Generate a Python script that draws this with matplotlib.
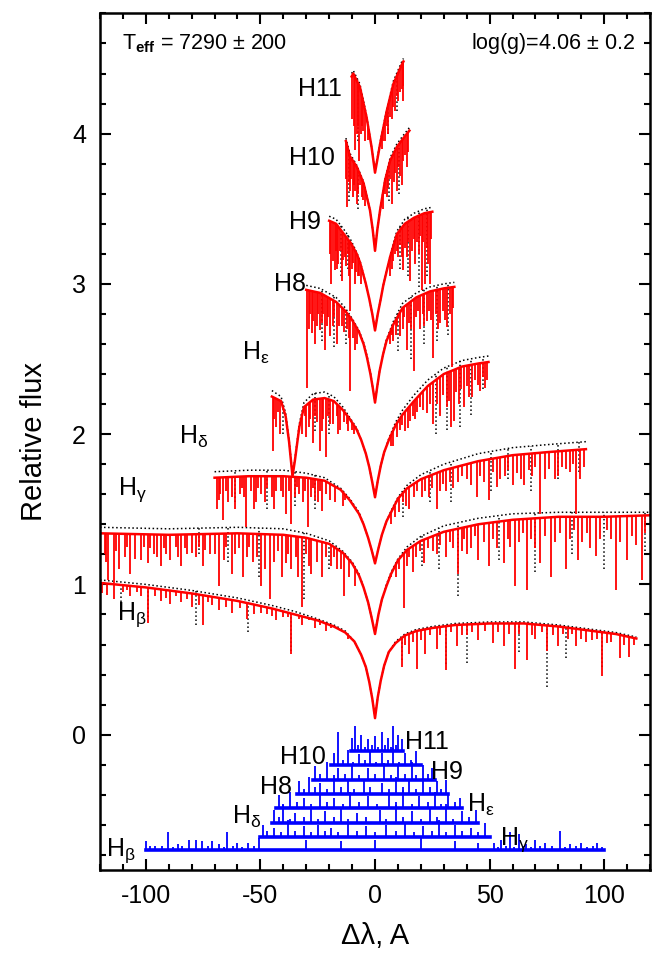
import matplotlib
matplotlib.use("Agg")
import matplotlib.pyplot as plt
import numpy as np
from matplotlib.ticker import MultipleLocator

# ---- H-beta ----
HB_X = [-120, -100, -80, -60, -45, -35, -25, -18, -13, -9, -6, -4, -2.5, -1.2, 0,
        1.2, 2.5, 4, 6, 9, 13, 18, 25, 35, 50, 65, 80, 95, 105, 114]
HB_RED = [1.01, 0.98, 0.94, 0.89, 0.84, 0.80, 0.76, 0.72, 0.68, 0.62, 0.53, 0.45, 0.35, 0.24, 0.11,
          0.25, 0.36, 0.46, 0.55, 0.61, 0.66, 0.69, 0.71, 0.73, 0.74, 0.74, 0.72, 0.69, 0.67, 0.64]
HB_OBS = [1.03, 1.00, 0.96, 0.91, 0.86, 0.82, 0.77, 0.73, 0.69, 0.62, 0.53, 0.45, 0.35, 0.24, 0.12,
          0.25, 0.36, 0.46, 0.55, 0.62, 0.67, 0.70, 0.72, 0.74, 0.75, 0.75, 0.73, 0.70, 0.68, 0.65]
HB_DIP_X = [-117, -114.0, -110.1, -106.9, -102.1, -99.0, -96, -93.4, -89.5, -84.7, -80.0, -75.2, -71,
            -68.1, -62.6, -56.0, -53, -49.9, -43.0, -40, -36.5, -31.7, -26.0, -21.4, -16, -12.0,
            11.8, 15.0, 18.2, 22.0, 26.9, 30.8, 35.6, 40.3, 45.1, 51.4, 56.2, 60.9, 66.4, 70,
            75.0, 80.0, 84, 87.8, 92.0, 98.9, 103, 106.8, 111.0,
            -119, -108, -104, -91, -87, -82, -77, -73, -65, -59, -47, -45, -38, -33, -29, -24, -19,
            13, 16.5, 20, 24, 28.5, 33, 38, 42.5, 48, 53.5, 58.5, 63, 68.5, 73, 77.5, 82, 86, 90,
            94.5, 97, 101, 108.5, 113]
HB_DIP_Y = [0.93, 0.90, 0.95, 0.92, 0.92, 0.74, 0.92, 0.89, 0.87, 0.88, 0.85, 0.73, 0.86,
            0.83, 0.81, 0.77, 0.80, 0.81, 0.76, 0.78, 0.54, 0.73, 0.71, 0.69, 0.70, 0.64,
            0.45, 0.54, 0.44, 0.54, 0.57, 0.43, 0.59, 0.66, 0.63, 0.61, 0.59, 0.44, 0.50, 0.64,
            0.56, 0.59, 0.64, 0.59, 0.62, 0.39, 0.62, 0.51, 0.52,
            0.94, 0.96, 0.95, 0.91, 0.92, 0.90, 0.86, 0.88, 0.85, 0.84, 0.80, 0.79, 0.78, 0.77,
            0.76, 0.73, 0.71,
            0.60, 0.62, 0.63, 0.66, 0.66, 0.68, 0.66, 0.68, 0.69, 0.68, 0.67, 0.67, 0.66, 0.68,
            0.66, 0.67, 0.67, 0.64, 0.63, 0.64, 0.61, 0.60, 0.60]
HB_ODIP_X = [-111, -99.0, -78.0, -55.4, -36.5, 11.8, 30.8, 40.3, 63.0, 75.0, 83.1, 98.9]
HB_ODIP_Y = [0.88, 0.78, 0.73, 0.68, 0.56, 0.50, 0.47, 0.48, 0.55, 0.32, 0.51, 0.45]

# ---- H-gamma ----
HG_X = [-120, -90, -60, -40, -30, -20, -14, -10, -7, -5, -3, -1.5, 0,
        1.5, 3, 5, 7, 10, 14, 20, 30, 45, 60, 80, 100, 120]
HG_RED = [1.34, 1.33, 1.34, 1.33, 1.31, 1.27, 1.21, 1.14, 1.06, 0.98, 0.88, 0.78, 0.67,
          0.80, 0.90, 0.99, 1.07, 1.16, 1.23, 1.29, 1.35, 1.40, 1.43, 1.45, 1.45, 1.46]
HG_OBS = [1.38, 1.37, 1.38, 1.37, 1.34, 1.29, 1.22, 1.15, 1.07, 0.98, 0.88, 0.78, 0.68,
          0.80, 0.90, 1.00, 1.08, 1.17, 1.25, 1.32, 1.39, 1.44, 1.47, 1.48, 1.48, 1.48]
HG_DIP_X = [-116.4, -114.0, -111.6, -106.9, -104.5, -102.1, -99.0, -96.6, -93.4, -89.5, -84.7,
            -80.0, -75.2, -72.1, -68.1, -62.6, -57.8, -53.1, -49.9, -46.0, -40.4, -36.5, -31.7,
            -27.8, -23.0, -16.5, -13.5, -8.8, 7.1, 12.6, 16.6, 25.3, 30.8, 36.4, 40.3, 45.1,
            49.8, 56.2, 60.9, 66.4, 72.0, 76.7, 83.1, 88.6, 96.5, 105.2, 110.0, 116.3,
            -118, -117.5, -113, -109, -108, -101, -98, -95, -92, -91, -87, -86, -83, -82, -78,
            -77, -74, -70, -66, -65, -61, -59.5, -56, -55, -51.5, -48, -44, -42.5, -39, -38,
            -34.5, -33.5, -30, -29, -25.5, -21.5, -19, -18, -15, -11.5,
            9, 10.5, 14, 15, 18, 19.5, 21.5, 23, 27, 28.5, 32.5, 34, 38, 39, 42, 43.5, 47.5,
            51.5, 53, 58, 59, 63, 64.5, 68, 70, 74, 78.5, 80.5, 85, 87, 90.5, 92.5, 94, 98,
            101, 103, 107, 112, 114, 118]
HG_DIP_Y = [1.03, 1.01, 1.10, 1.07, 1.17, 1.16, 1.14, 1.20, 1.12, 1.16, 1.12,
            1.21, 1.12, 1.20, 0.99, 1.07, 1.05, 1.15, 0.99, 0.90, 1.05, 1.10, 0.85,
            1.07, 1.05, 1.10, 0.92, 0.99, 1.05, 0.84, 1.08, 1.22, 1.18, 1.07, 1.20, 1.16,
            1.12, 1.14, 0.99, 0.96, 1.14, 1.05, 1.10, 1.16, 1.19, 0.96, 1.16, 1.03,
            1.20, 1.15, 1.22, 1.18, 1.25, 1.25, 1.24, 1.18, 1.24, 1.20, 1.25, 1.18, 1.24, 1.20,
            1.18, 1.25, 1.23, 1.20, 1.16, 1.25, 1.20, 1.24, 1.18, 1.25, 1.18, 1.10, 1.15, 1.22,
            1.14, 1.20, 1.18, 1.05, 1.20, 1.12, 1.15, 1.18, 1.12, 1.18, 1.10, 1.05,
            1.05, 1.10, 1.12, 1.18, 1.18, 1.22, 1.14, 1.24, 1.20, 1.26, 1.28, 1.24, 1.22, 1.30,
            1.24, 1.32, 1.28, 1.30, 1.24, 1.30, 1.25, 1.28, 1.34, 1.30, 1.24, 1.32, 1.28, 1.34,
            1.30, 1.36, 1.28, 1.34, 1.24, 1.30, 1.36, 1.30, 1.28, 1.32, 1.26, 1.34]
HG_ODIP_X = [-77, -64, -50.5, -31, -20, 20.5, 28, 36.4, 54, 70, 86, 100, 118]
HG_ODIP_Y = [1.20, 1.15, 1.05, 0.90, 1.10, 1.12, 1.10, 0.92, 1.16, 1.08, 1.20, 1.10, 1.22]

# ---- H-delta ----
HD_X = [-70, -55, -40, -30, -22, -15, -11, -7, -5, -3, -1.5, 0,
        1.5, 3, 5, 7, 10, 14, 20, 30, 45, 60, 75, 92]
HD_RED = [1.71, 1.72, 1.72, 1.71, 1.69, 1.63, 1.56, 1.47, 1.40, 1.31, 1.23, 1.14,
          1.24, 1.33, 1.42, 1.48, 1.57, 1.64, 1.70, 1.76, 1.82, 1.86, 1.88, 1.90]
HD_OBS = [1.75, 1.76, 1.76, 1.74, 1.71, 1.64, 1.57, 1.48, 1.40, 1.31, 1.23, 1.15,
          1.24, 1.33, 1.42, 1.49, 1.58, 1.66, 1.73, 1.80, 1.87, 1.91, 1.93, 1.95]
HD_DIP_X = [-69.0, -68.1, -66.5, -62.6, -59, -56.2, -52, -49.9, -45.1, -41, -38.8, -36.5, -33,
            -29.3, -26, -23.0, -19.8, 7.1, 10.5, 15.0, 20.5, 26.9, 30.8, 36.4, 40, 44.3, 49.8,
            54.6, 60.1, 64.9, 72.0, 78.3, 83.1, 87.8, 91,
            -67.5, -65, -64, -61, -58, -57, -54, -53, -51, -48, -47, -44, -43, -40, -37.5, -35,
            -34, -31.5, -30.5, -28, -27, -25, -24, -21.5, -17.5, -14, -13,
            8.5, 12, 13.5, 17, 18.5, 22, 23.5, 25, 28.5, 29.5, 32.5, 34, 38, 42, 46, 47.5, 51.5,
            53, 56.5, 58, 62, 63.5, 67, 68.5, 70, 74, 76, 80, 81.5, 85, 86.5, 89.5]
HD_DIP_Y = [1.50, 1.56, 1.43, 1.58, 1.60, 1.38, 1.55, 1.60, 1.58, 1.62, 1.47, 1.40, 1.60,
            1.38, 1.56, 1.49, 1.56, 1.40, 1.48, 1.50, 1.58, 1.50, 1.62, 1.68, 1.70, 1.58, 1.56,
            1.70, 1.66, 1.66, 1.47, 1.70, 1.77, 1.47, 1.78,
            1.60, 1.62, 1.55, 1.50, 1.64, 1.58, 1.62, 1.50, 1.64, 1.55, 1.64, 1.50, 1.62, 1.58,
            1.62, 1.58, 1.65, 1.55, 1.62, 1.58, 1.64, 1.55, 1.62, 1.60, 1.55, 1.52, 1.56,
            1.45, 1.55, 1.52, 1.58, 1.62, 1.62, 1.58, 1.64, 1.62, 1.67, 1.68, 1.64, 1.72, 1.66,
            1.72, 1.68, 1.75, 1.65, 1.72, 1.76, 1.74, 1.70, 1.76, 1.72, 1.78, 1.70, 1.77, 1.72,
            1.78, 1.75, 1.80, 1.70]
HD_ODIP_X = [-61, -47, -35, -26, 12, 24, 33, 50.5, 58, 68, 80, 89]
HD_ODIP_Y = [1.55, 1.50, 1.52, 1.50, 1.45, 1.55, 1.55, 1.62, 1.70, 1.62, 1.70, 1.75]

# ---- H-epsilon ----
HE_X = [-45, -41, -39, -37.5, -36, -35, -33, -31, -27, -22, -18, -14, -11, -8, -6, -4, -2.5,
        -1.2, 0, 1.2, 2.5, 4, 6, 9, 12, 17, 23, 30, 38, 45, 49.5]
HE_RED = [2.25, 2.22, 2.12, 1.95, 1.72, 1.82, 2.05, 2.18, 2.23, 2.24, 2.22, 2.16, 2.10, 2.03,
          1.96, 1.87, 1.78, 1.68, 1.58, 1.69, 1.79, 1.88, 1.96, 2.06, 2.13, 2.22, 2.32, 2.40,
          2.45, 2.47, 2.48]
HE_OBS = [2.29, 2.25, 2.14, 1.96, 1.73, 1.83, 2.07, 2.21, 2.27, 2.28, 2.25, 2.18, 2.11, 2.04,
          1.96, 1.87, 1.78, 1.68, 1.59, 1.69, 1.79, 1.88, 1.97, 2.08, 2.16, 2.26, 2.36, 2.44,
          2.49, 2.51, 2.52]
HE_DIP_X = [-44.5, -43, -41.6, -29.9, -28.5, -27.0, -25.5, -24.1, -22.5, -21.2, -19.5, -18.2,
            -15.3, -12.4, 8, 10.9, 13.2, 15.3, 17.5, 19.7, 22.6, 25.5, 28.4, 31.4, 33, 34.3,
            36.5, 38.7, 42.3, 46.0, 48.1,
            -44, -42.5, -32, -30.5, -29, -26.2, -23.3, -20.3, -16.7, -16, -13.5, -11.7, -10, -9,
            7, 9.5, 11.8, 14.2, 16.4, 18.5, 21, 24, 27, 29.5, 32.2, 35.3, 37.5, 40, 41.2, 43.5,
            44.8, 47, 49]
HE_DIP_Y = [1.89, 2.05, 2.00, 1.98, 2.10, 1.94, 2.08, 1.89, 2.10, 1.85, 2.07, 2.07,
            2.03, 2.07, 1.92, 2.03, 2.02, 2.09, 2.10, 2.18, 2.14, 2.07, 2.12, 2.18, 2.05, 2.09,
            2.20, 2.18, 2.25, 2.29, 2.31,
            2.10, 2.15, 2.00, 2.12, 2.05, 2.12, 2.02, 2.12, 2.12, 2.00, 2.08, 2.02, 2.03, 2.00,
            1.92, 1.98, 2.06, 2.04, 2.12, 2.15, 2.16, 2.20, 2.20, 2.26, 2.22, 2.28, 2.30, 2.32,
            2.25, 2.36, 2.33, 2.38, 2.36]
HE_ODIP_X = [-40, -26, -20, 26.5, 31.4, 37, 42, 47]
HE_ODIP_Y = [2.00, 2.02, 2.00, 2.00, 2.03, 2.05, 2.13, 2.30]

# ---- H8 ----
H8_X = [-30, -24, -17, -13, -10, -7, -5, -3.5, -2, -1, 0, 1, 2, 3.5, 5, 8, 12, 18, 24, 30, 34.6]
H8_RED = [2.96, 2.94, 2.88, 2.82, 2.76, 2.68, 2.60, 2.51, 2.40, 2.31, 2.21, 2.32, 2.42, 2.53,
          2.62, 2.73, 2.84, 2.91, 2.95, 2.97, 2.98]
H8_OBS = [2.99, 2.97, 2.91, 2.84, 2.77, 2.69, 2.61, 2.52, 2.41, 2.31, 2.22, 2.32, 2.42, 2.53,
          2.63, 2.75, 2.87, 2.94, 2.98, 3.00, 3.01]
H8_DIP_X = [-29.6, -27.7, -26.2, -24.1, -21.9, -19.7, -16.8, -14.6, -10.9, -8.8, 8.0, 11.0,
            13.9, 16.8, 19.7, 22.6, 25.5, 28.5, 31.4, 33.6,
            -28.8, -28.2, -27, -25.5, -25, -23.2, -22.7, -21, -20.5, -18.5, -18, -15.6, -13.5,
            -12.2, -11.5, -9.6, -7.8, 6.6, 7.3, 9, 9.8, 12.2, 12.8, 15, 15.8, 18, 18.8, 20.8,
            21.5, 23.5, 24.3, 26.5, 27.3, 29.5, 30.5, 32.5, 34]
H8_DIP_Y = [2.31, 2.67, 2.60, 2.69, 2.56, 2.65, 2.60, 2.72, 2.29, 2.56, 2.62, 2.65,
            2.56, 2.42, 2.70, 2.75, 2.51, 2.74, 2.71, 2.45,
            2.70, 2.80, 2.75, 2.72, 2.80, 2.74, 2.80, 2.72, 2.78, 2.72, 2.78, 2.72, 2.68,
            2.70, 2.64, 2.64, 2.60, 2.60, 2.66, 2.66, 2.72, 2.70, 2.78, 2.74, 2.70, 2.78, 2.82,
            2.80, 2.72, 2.82, 2.76, 2.80, 2.70, 2.82, 2.76, 2.80, 2.84]
H8_ODIP_X = [-23, -18, -12.5, 10, 15.5, 21.5, 27, 32]
H8_ODIP_Y = [2.62, 2.58, 2.60, 2.55, 2.50, 2.60, 2.62, 2.66]

# ---- H9 ----
H9_X = [-20, -17, -13, -10.5, -8, -6.5, -4, -2.5, -1.2, 0, 1.2, 2.5, 3.6, 5, 6.6, 9.5, 13, 17,
        21.5, 25]
H9_RED = [3.42, 3.40, 3.32, 3.27, 3.20, 3.14, 3.00, 2.90, 2.80, 2.69, 2.80, 2.90, 2.99, 3.08,
          3.18, 3.33, 3.40, 3.44, 3.47, 3.48]
H9_OBS = [3.45, 3.43, 3.35, 3.29, 3.21, 3.15, 3.00, 2.90, 2.80, 2.70, 2.80, 2.90, 2.99, 3.09,
          3.19, 3.35, 3.43, 3.47, 3.50, 3.51]
H9_DIP_X = [-19.0, -17.5, -16.0, -14.6, -13.1, -10.9, -8.8, -7.3, 6.6, 9.5, 12.4, 15.3, 17.5,
            20.4, 21.9, 23.3, 24.1,
            -19.6, -18.4, -17, -16.5, -15.3, -14, -12.5, -12, -11.5, -10, -9.4, -8.2, -6.8, -6,
            7.2, 8, 8.8, 10.2, 11, 11.7, 13.2, 13.9, 14.6, 16, 16.8, 18.2, 19, 19.7, 21, 22.6,
            24.6]
H9_DIP_Y = [3.00, 3.09, 3.13, 3.02, 3.18, 2.82, 3.00, 3.05, 3.05, 3.22, 3.09, 3.02, 3.13,
            2.96, 3.00, 3.13, 3.00,
            3.20, 3.15, 3.22, 3.10, 3.22, 3.16, 3.12, 3.20, 3.05, 3.10, 3.14, 3.08, 3.05, 3.00,
            3.10, 3.15, 3.20, 3.18, 3.26, 3.18, 3.24, 3.18, 3.28, 3.22, 3.30, 3.28, 3.20, 3.32,
            3.28, 3.24, 3.30]
H9_ODIP_X = [-15, -12, 11, 14.5, 19, 22.5]
H9_ODIP_Y = [3.05, 3.10, 3.10, 3.05, 2.98, 3.05]

# ---- H10 ----
H10_X = [-12.7, -11, -8, -5, -2.2, -1, 0, 1, 2.2, 4.4, 6.6, 9.5, 12.4, 15]
H10_RED = [3.95, 3.85, 3.78, 3.67, 3.49, 3.36, 3.22, 3.36, 3.49, 3.69, 3.82, 3.91, 3.97, 4.02]
H10_OBS = [3.97, 3.87, 3.79, 3.68, 3.49, 3.36, 3.23, 3.36, 3.49, 3.70, 3.84, 3.93, 3.99, 4.04]
H10_DIP_X = [-12.1, -10.9, -9.8, -8.0, -6.6, -4.4, 5.1, 7.3, 9.5, 11.7, 13.9,
             -12.5, -11.5, -10.3, -9.3, -8.6, -7.3, -5.8, -5.3, 3.6, 4.5, 5.8, 6.6, 8.1, 8.8,
             10.2, 10.9, 12.4, 13.2, 14.6]
H10_DIP_Y = [3.51, 3.62, 3.58, 3.53, 3.66, 3.52, 3.58, 3.53, 3.62, 3.66, 3.78,
             3.70, 3.68, 3.70, 3.66, 3.62, 3.60, 3.58, 3.56, 3.50, 3.60, 3.64, 3.70, 3.68, 3.74,
             3.78, 3.72, 3.82, 3.86, 3.88]
H10_ODIP_X = [-11.5, -7.3, 6.0, 10.5]
H10_ODIP_Y = [3.55, 3.50, 3.55, 3.60]

# ---- H11 ----
H11_X = [-10.2, -9.5, -6.6, -3.7, -1.5, 0, 2.2, 5.1, 8, 11.7, 12.4]
H11_RED = [4.38, 4.40, 4.31, 4.11, 3.91, 3.74, 3.93, 4.15, 4.33, 4.46, 4.48]
H11_OBS = [4.40, 4.42, 4.33, 4.12, 3.91, 3.75, 3.94, 4.16, 4.35, 4.48, 4.50]
H11_DIP_X = [-8.8, -8.0, -6.9, -5.8, -4.4, 2.9, 4.4, 6.6, 8.8, 10.2, 12.4,
             -9.9, -9.3, -7.5, -6.3, -5.1, -3.0, 3.6, 5.1, 5.8, 7.3, 8.0, 9.5, 10.9, 11.7, 12.2]
H11_DIP_Y = [3.89, 4.00, 3.82, 4.05, 3.95, 3.90, 3.95, 4.11, 4.15, 4.22, 4.22,
             4.10, 4.05, 4.05, 4.00, 4.02, 3.96, 3.95, 4.05, 4.00, 4.10, 4.18, 4.25, 4.28, 4.30,
             4.32]
H11_ODIP_X = [-7.5, 5.5, 9.5]
H11_ODIP_Y = [3.95, 4.00, 4.15]

# ---- O-C residuals (blue), one baseline per line ----
RES_BASE = [-0.77, -0.68, -0.585, -0.49, -0.395, -0.30, -0.205, -0.11]
RES_LO = [-100, -50, -45, -43, -34, -27, -19, -10.5]
RES_HI = [100, 50, 45, 38, 32, 26, 20, 12]
RES_HB_X = [-99.9, -96, -90.5, -86, -81.2, -78, -75.7, -71, -68, -64.7, -60, -55.3, -50.7,
            -30, -15, 0, 20, 35, 45, 52, 55, 58.8, 62.7, 66, 69.7, 74, 80.6, 85, 90, 97,
            -98, -93, -88, -84, -73, -66, -62, -58, -53, 53.5, 57, 60.5, 64.5, 68, 72, 77, 83,
            87.5, 92.5, 95, 99]
RES_HB_Y = [-0.71, -0.74, -0.65, -0.73, -0.70, -0.70, -0.71, -0.71, -0.73, -0.65, -0.72, -0.72,
            -0.69, -0.70, -0.71, -0.70, -0.69, -0.71, -0.72, -0.72, -0.70, -0.65, -0.66, -0.73,
            -0.70, -0.72, -0.64, -0.73, -0.72, -0.72,
            -0.74, -0.74, -0.75, -0.74, -0.74, -0.75, -0.74, -0.75, -0.74, -0.75, -0.74, -0.75,
            -0.74, -0.75, -0.74, -0.74, -0.75, -0.74, -0.75, -0.74, -0.75]
RES_HG_X = [-49, -44, -38, -31, -25, -19, -12, -4, 5, 13, 21, 28, 35, 42, 48,
            -47, -41, -35, -28, -22, -16, -8, 0, 9, 17, 25, 31, 38, 45]
RES_HG_Y = [-0.60, -0.62, -0.57, -0.61, -0.60, -0.62, -0.58, -0.61, -0.60, -0.58, -0.61, -0.57,
            -0.60, -0.62, -0.59,
            -0.64, -0.65, -0.64, -0.65, -0.64, -0.65, -0.64, -0.65, -0.64, -0.65, -0.64, -0.65,
            -0.64, -0.65]
RES_HD_X = [-44, -40, -35, -28, -22, -15, -8, 2, 9, 16, 24, 31, 38, 44,
            -42, -37, -31, -25, -18, -12, -4, 5, 12, 20, 27, 34, 41]
RES_HD_Y = [-0.50, -0.47, -0.52, -0.49, -0.51, -0.48, -0.52, -0.50, -0.47, -0.51, -0.49, -0.46,
            -0.51, -0.50,
            -0.55, -0.56, -0.55, -0.56, -0.55, -0.56, -0.55, -0.56, -0.55, -0.56, -0.55, -0.56,
            -0.55]
RES_HE_X = [-42, -37, -31, -24, -18, -11, -3, 6, 12, 19, 26, 32, 37,
            -40, -34, -28, -21, -14, -7, 1, 9, 16, 23, 29, 35]
RES_HE_Y = [-0.40, -0.38, -0.42, -0.39, -0.42, -0.38, -0.41, -0.40, -0.37, -0.41, -0.38, -0.40,
            -0.42,
            -0.46, -0.45, -0.46, -0.45, -0.46, -0.45, -0.46, -0.45, -0.46, -0.45, -0.46, -0.45]
RES_H8_X = [-33, -29, -24, -18, -12, -5, 3, 9, 15, 21, 27, 31,
            -31, -26, -21, -15, -9, -2, 6, 12, 18, 24, 29]
RES_H8_Y = [-0.31, -0.28, -0.32, -0.29, -0.31, -0.30, -0.32, -0.28, -0.31, -0.29, -0.31, -0.30,
            -0.36, -0.35, -0.36, -0.35, -0.36, -0.35, -0.36, -0.35, -0.36, -0.35, -0.36]
RES_H9_X = [-26, -21, -16, -10, -3, 4, 10, 16, 21, 25,
            -24, -18, -13, -7, 0, 7, 13, 18, 23]
RES_H9_Y = [-0.21, -0.18, -0.22, -0.20, -0.22, -0.19, -0.21, -0.18, -0.20, -0.22,
            -0.26, -0.27, -0.26, -0.27, -0.26, -0.27, -0.26, -0.27, -0.26]
RES_H10_X = [-18, -16.1, -12, -7, -2, 3, 8, 13, 18,
             -14, -9.5, -4.5, 0.5, 5.5, 10.5, 15.5]
RES_H10_Y = [-0.12, 0.02, -0.10, -0.13, -0.11, -0.12, -0.09, -0.12, -0.11,
             -0.17, -0.18, -0.17, -0.18, -0.17, -0.18, -0.17]
RES_H11_X = [-10, -8.7, -6, -3, 0, 3, 5.5, 7.9, 10, 11.8,
             -7.5, -4.5, -1.5, 1.5, 4.3, 6.8, 9]
RES_H11_Y = [-0.02, 0.055, 0.00, -0.03, -0.01, 0.02, -0.02, 0.06, 0.00, -0.03,
             -0.07, -0.08, -0.07, -0.08, -0.07, -0.08, -0.07]

# labels (text, dlambda, flux)
LINE_LABELS = [(r"H$_\mathrm{\beta}$", -106, 0.80), (r"H$_\mathrm{\gamma}$", -106, 1.63),
               (r"H$_\mathrm{\delta}$", -79, 1.98), (r"H$_\mathrm{\varepsilon}$", -52, 2.54),
               ("H11", -24.1, 4.30), ("H10", -27.6, 3.84), ("H9", -30.6, 3.41), ("H8", -37.2, 3.00)]
RES_LABELS = [(r"H$_\mathrm{\beta}$", -111, -0.77), (r"H$_\mathrm{\gamma}$", 61, -0.70),
              (r"H$_\mathrm{\delta}$", -56, -0.55), (r"H$_\mathrm{\varepsilon}$", 46, -0.47),
              ("H8", -43, -0.35), ("H9", 31.5, -0.25), ("H10", -31.5, -0.15), ("H11", 22.8, -0.05)]


def main():
    plt.rcParams["font.family"] = ["Liberation Sans", "DejaVu Sans"]
    plt.rcParams["mathtext.fontset"] = "custom"
    plt.rcParams["mathtext.rm"] = "Liberation Sans"
    plt.rcParams["mathtext.it"] = "Liberation Sans:italic"
    plt.rcParams["mathtext.bf"] = "Liberation Sans:bold"
    plt.rcParams["axes.unicode_minus"] = False

    fig = plt.figure(figsize=(6.62, 9.57), dpi=100)
    ax = fig.add_axes([0.151, 0.091, 0.831, 0.895])

    profiles = [
        (HB_X, HB_RED, HB_OBS, HB_DIP_X, HB_DIP_Y, HB_ODIP_X, HB_ODIP_Y),
        (HG_X, HG_RED, HG_OBS, HG_DIP_X, HG_DIP_Y, HG_ODIP_X, HG_ODIP_Y),
        (HD_X, HD_RED, HD_OBS, HD_DIP_X, HD_DIP_Y, HD_ODIP_X, HD_ODIP_Y),
        (HE_X, HE_RED, HE_OBS, HE_DIP_X, HE_DIP_Y, HE_ODIP_X, HE_ODIP_Y),
        (H8_X, H8_RED, H8_OBS, H8_DIP_X, H8_DIP_Y, H8_ODIP_X, H8_ODIP_Y),
        (H9_X, H9_RED, H9_OBS, H9_DIP_X, H9_DIP_Y, H9_ODIP_X, H9_ODIP_Y),
        (H10_X, H10_RED, H10_OBS, H10_DIP_X, H10_DIP_Y, H10_ODIP_X, H10_ODIP_Y),
        (H11_X, H11_RED, H11_OBS, H11_DIP_X, H11_DIP_Y, H11_ODIP_X, H11_ODIP_Y),
    ]
    for x, red, obs, dx, dy, odx, ody in profiles:
        ax.plot(x, obs, color="black", ls=":", lw=1.1)
        ax.vlines(odx, ody, np.interp(odx, x, obs), color="black", ls=":", lw=1.1)
        ax.plot(x, red, color="red", lw=1.8)
        ax.vlines(dx, dy, np.interp(dx, x, red), color="red", lw=1.3)

    spikes = [(RES_HB_X, RES_HB_Y), (RES_HG_X, RES_HG_Y), (RES_HD_X, RES_HD_Y),
              (RES_HE_X, RES_HE_Y), (RES_H8_X, RES_H8_Y), (RES_H9_X, RES_H9_Y),
              (RES_H10_X, RES_H10_Y), (RES_H11_X, RES_H11_Y)]
    for base, lo, hi, (sx, sy) in zip(RES_BASE, RES_LO, RES_HI, spikes):
        ax.plot([lo, hi], [base, base], color="blue", lw=2.6)
        ax.vlines(sx, base, sy, color="blue", lw=1.3)

    for txt, xx, yy in LINE_LABELS + RES_LABELS:
        ax.text(xx, yy, txt, fontsize=18, ha="center", va="center")

    ax.text(0.04, 0.965, r"T$_\mathbf{eff}$ = 7290 $\pm$ 200", transform=ax.transAxes,
            fontsize=15.5, ha="left", va="center")
    ax.text(0.973, 0.965, r"log(g)=4.06 $\pm$ 0.2", transform=ax.transAxes,
            fontsize=15.5, ha="right", va="center")

    ax.set_xlim(-120, 120)
    ax.set_ylim(-0.9, 4.8)
    ax.xaxis.set_major_locator(MultipleLocator(50))
    ax.xaxis.set_minor_locator(MultipleLocator(10))
    ax.yaxis.set_major_locator(MultipleLocator(1))
    ax.yaxis.set_minor_locator(MultipleLocator(0.2))
    ax.tick_params(which="both", direction="in", top=True, right=True, width=1.5)
    ax.tick_params(which="major", length=8, labelsize=18, pad=10)
    ax.tick_params(which="minor", length=4)
    for sp in ax.spines.values():
        sp.set_linewidth(1.8)
    ax.set_xlabel("Δλ, A", fontsize=21, labelpad=10)
    ax.set_ylabel("Relative flux", fontsize=21, labelpad=17)

    fig.savefig("out.png", dpi=100)


if __name__ == "__main__":
    main()
